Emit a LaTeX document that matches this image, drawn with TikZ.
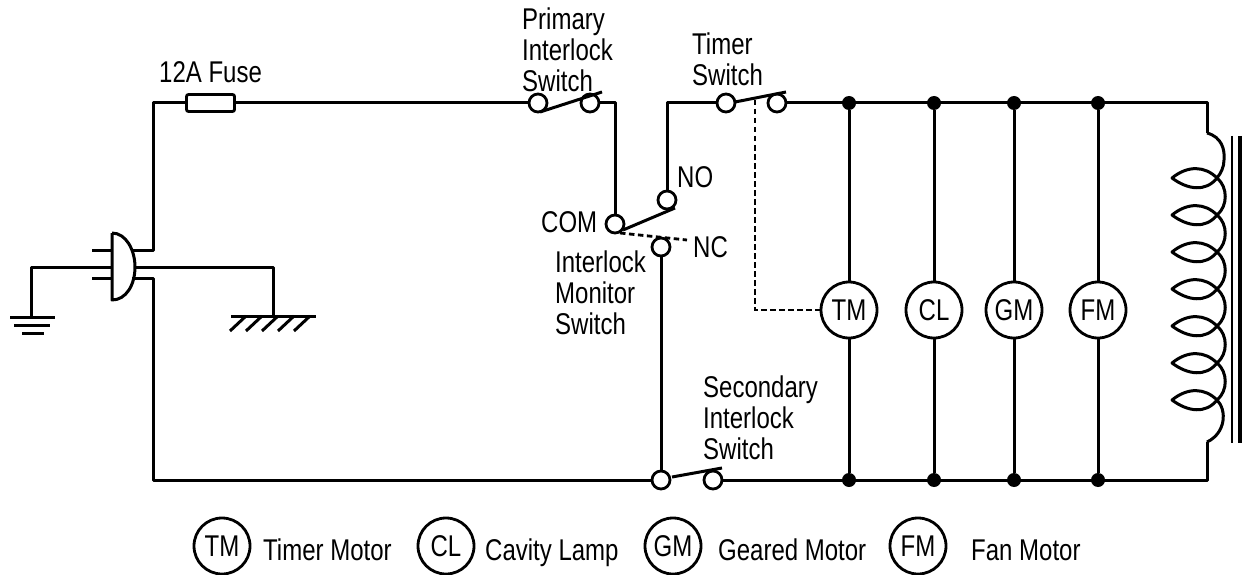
\documentclass[tikz,border=0pt]{standalone}
\usepackage{fontspec}
\setmainfont[FakeStretch=0.8]{Liberation Sans}
\begin{document}
\begin{tikzpicture}[x=1pt,y=-1pt,
  wire/.style={line width=3pt,line join=round},
  dashwire/.style={line width=2.8pt,dash pattern=on 5.5pt off 3.5pt},
  term/.style={circle,draw,line width=2.8pt,minimum size=18pt,inner sep=0pt,fill=white},
  dotj/.style={circle,fill=black,minimum size=14pt,inner sep=0pt},
  load/.style={circle,draw,line width=2.8pt,minimum size=56pt,inner sep=0pt,fill=white,font=\fontsize{30}{30}\selectfont},
  lbl/.style={inner sep=0pt,font=\fontsize{30}{31}\selectfont,align=left,anchor=base west}]
\useasboundingbox (0,0) rectangle (1247,575);
% terminals
\node[term] (p1) at (538,103) {};
\node[term] (p2) at (590,103) {};
\node[term] (t1) at (726,103) {};
\node[term] (t2) at (777,103) {};
\node[term] (com) at (615,224) {};
\node[term] (no) at (667,200) {};
\node[term] (nc) at (661,247) {};
\node[term] (s1) at (661,480) {};
\node[term] (s2) at (713,480) {};
% loads
\foreach \n/\x/\t in {tm/849/TM,cl/934/CL,gm/1014/GM,fm/1098/FM}{
  \node[dotj] (\n t) at (\x,103) {};
  \node[dotj] (\n b) at (\x,480) {};
  \node[load] (\n) at (\x,310) {\raisebox{-2pt}{\t}};
  \draw[wire] (\n t) -- (\n) -- (\n b);
}
% fuse
\node[draw,line width=2.8pt,rounded corners=2pt,minimum width=48pt,minimum height=17pt,inner sep=0pt] (fuse) at (210.5,103) {};
% plug
\coordinate (plugT) at (112,233);
\coordinate (plugB) at (112,300);
\draw[wire] (plugT) -- (plugB) .. controls (126,300) and (135,285) .. (135,267) .. controls (135,250) and (126,233) .. (plugT);
\coordinate (pr1) at (92,250); \coordinate (pr1e) at (112,250);
\coordinate (pr2) at (92,278); \coordinate (pr2e) at (112,278);
\draw[wire] (pr1) -- (pr1e);
\draw[wire] (pr2) -- (pr2e);
\coordinate (lT) at (132,250);
\coordinate (lB) at (132,278);
\coordinate (gL) at (112,267);
\coordinate (gR) at (135,267);
% earth
\coordinate (earth) at (31,317);
\draw[wire] (gL) -| (earth);
\draw[wire] (10,317) -- (55,317);
\draw[wire] (14,325) -- (50,325);
\draw[line width=3pt] (22,333) -- (44,333);
% chassis
\coordinate (chassis) at (273,316);
\draw[wire] (gR) -| (chassis);
\draw[wire] (231,316) -- (316,316);
\foreach \x in {246,262,278,294,310}{\draw[wire] (\x,316) -- (\x-16,331);}
% main wiring
\draw[wire] (lT) -| (153,103) -- (fuse.west);
\draw[wire] (fuse.east) -- (p1.west);
\draw[wire] (p2.east) -- (615,103) -- (com.north);
\draw[wire] (no.north) |- (713,103);
\draw[wire] (t1.west) -- (713,103);
\draw[wire] (t2.east) -- (1207,103) -- (1207,133);
\draw[wire] (lB) -| (153,480) -- (s1.west);
\draw[wire] (nc.south) -- (s1.north);
\draw[wire] (s2.east) -- (1207,480) -- (1207,442);
% blades
\draw[wire] (540,112) -- (602,92);
\draw[wire] (735,102) -- (786,92);
\draw[wire] (623,230) -- (675,208);
\draw[wire] (672,477) -- (722,468);
% dashed
\draw[dashwire] (620,233) -- (687,240);
\draw[dashwire] (755,100) -- (755,310) -- (tm.west);
% coil
\draw[wire,fill=none] (1207,133) .. controls (1222,137) and (1225,150) .. (1224,160) .. controls (1224,167) and (1221,173) .. (1217,178)
\foreach \y/\ny in {178/215,215/252,252/289,289/326,326/363,363/400}{
  .. controls (1206,\y+14) and (1188,\y+12) .. (1172,\y)
  .. controls (1188,\y-13) and (1205,\y-12) .. (1217,\y)
  .. controls (1228,\y+9) and (1228,\ny-9) .. (1217,\ny)
}
  .. controls (1206,414) and (1188,412) .. (1172,400)
  .. controls (1188,387) and (1205,388) .. (1217,400)
  .. controls (1227,410) and (1226,433) .. (1207,442);
% core
\draw[line width=2.4pt] (1232,136) -- (1232,443);
\draw[line width=3.2pt] (1240,136) -- (1240,443);
% labels
\node[lbl] (l1) at (159,83) {12A Fuse};
\node[lbl] (l2) at (522,92) {Primary\\Interlock\\Switch};
\node[lbl] (l3) at (692,86) {Timer\\Switch};
\node[lbl] (l4) at (677,187) {NO};
\node[lbl] (l5) at (541,232) {COM};
\node[lbl] (l6) at (693,257) {NC};
\node[lbl] (l7) at (555,334) {Interlock\\Monitor\\Switch};
\node[lbl] (l8) at (703,459) {Secondary\\Interlock\\Switch};
% legend
\node[load,fill=none] (ltm) at (222,546) {\raisebox{-2pt}{TM}};
\node[lbl] (ltt) at (263,560) {Timer Motor};
\node[load,fill=none] (lcl) at (446,546) {\raisebox{-2pt}{CL}};
\node[lbl] (lct) at (485,560) {Cavity Lamp};
\node[load,fill=none] (lgm) at (673,546) {\raisebox{-2pt}{GM}};
\node[lbl] (lgt) at (718,560) {Geared Motor};
\node[load,fill=none] (lfm) at (918,546) {\raisebox{-2pt}{FM}};
\node[lbl] (lft) at (971,560) {Fan Motor};
\end{tikzpicture}
\end{document}
